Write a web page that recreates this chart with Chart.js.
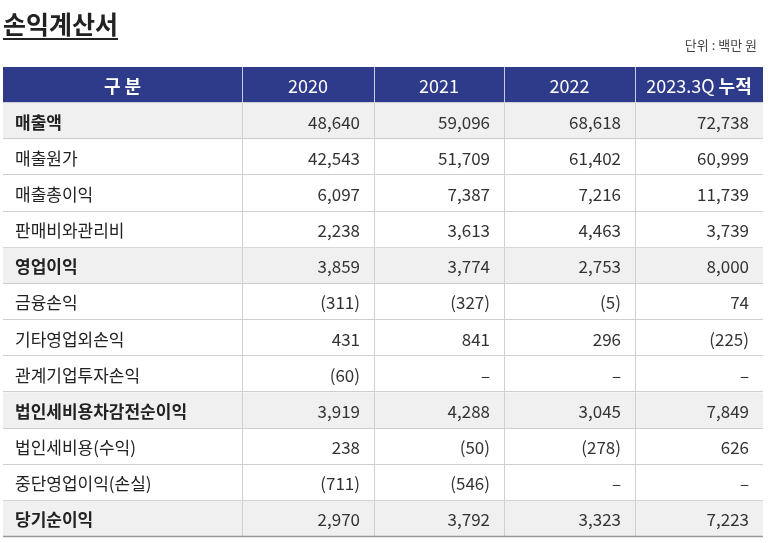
<!DOCTYPE html>
<html><head><meta charset="utf-8">
<script src="https://cdn.jsdelivr.net/npm/chart.js@4"></script>
<style>html,body{margin:0;padding:0;background:#fff}canvas{display:block}</style>
</head><body>
<div style="width:773px;height:543px"><canvas id="c"></canvas></div>
<script>
const title = '손익계산서';
const unit = '단위 : 백만 원';
const headers = ['구 분', '2020', '2021', '2022', '2023.3Q'];
const rowLabels = ['매출액','매출원가','매출총이익','판매비와관리비','영업이익','금융손익','기타영업외손익','관계기업투자손익','법인세비용차감전순이익','법인세비용(수익)','중단영업이익(손실)','당기순이익'];
const v2020 = ['48,640','42,543','6,097','2,238','3,859','(311)','431','(60)','3,919','238','(711)','2,970'];
const v2021 = ['59,096','51,709','7,387','3,613','3,774','(327)','841','–','4,288','(50)','(546)','3,792'];
const v2022 = ['68,618','61,402','7,216','4,463','2,753','(5)','296','–','3,045','(278)','–','3,323'];
const v2023 = ['72,738','60,999','11,739','3,739','8,000','74','(225)','–','7,849','626','–','7,223'];
const boldRows = ['매출액','영업이익','법인세비용차감전순이익','당기순이익'];

const colEdges = [0, 239, 371, 501, 632, 760];
const FONT = '"Noto Sans CJK KR","Noto Sans",sans-serif';
const cols = [v2020, v2021, v2022, v2023];

const tablePlugin = {
  id: 'table',
  afterDraw(chart) {
    const ctx = chart.ctx, xs = chart.scales.x, ys = chart.scales.y;
    const labels = ys.getLabels();
    const band = Math.abs(ys.getPixelForValue(1) - ys.getPixelForValue(0));
    const X = e => xs.getPixelForValue(e);
    ctx.save();
    // title
    ctx.fillStyle = '#222'; ctx.font = 'bold 25px ' + FONT; ctx.textBaseline = 'alphabetic'; ctx.textAlign='left';
    ctx.fillText(title, 3, 34);
    const tw = ctx.measureText(title).width;
    ctx.fillRect(3, 38, tw, 2);
    ctx.fillStyle = '#444'; ctx.font = '13px ' + FONT; ctx.textAlign = 'right';
    ctx.fillText(unit, 757, 50);
    labels.forEach((lab, i) => {
      const cy = ys.getPixelForValue(i), top = cy - band/2, bot = cy + band/2;
      const isHead = i === 0;
      const bold = boldRows.includes(lab);
      if (isHead) { ctx.fillStyle = '#2e3a8a'; ctx.fillRect(X(0), top, X(760)-X(0), band); }
      else if (bold) { ctx.fillStyle = '#f0f0f0'; ctx.fillRect(X(0), top, X(760)-X(0), band); }
      // separators
      ctx.strokeStyle = isHead ? '#c8cbe0' : '#d0d0d0'; ctx.lineWidth = 1;
      ctx.beginPath();
      for (let k = 1; k < colEdges.length-1; k++) { ctx.moveTo(X(colEdges[k])+0.5, top); ctx.lineTo(X(colEdges[k])+0.5, bot); }
      ctx.stroke();
      ctx.strokeStyle = i === labels.length-1 ? '#999' : '#cfcfcf';
      ctx.lineWidth = i === labels.length-1 ? 1.5 : 1;
      ctx.beginPath(); ctx.moveTo(X(0), Math.round(bot)-0.5); ctx.lineTo(X(760), Math.round(bot)-0.5); ctx.stroke();
      ctx.textBaseline = 'middle';
      if (isHead) {
        ctx.fillStyle = '#fff';
        ctx.font = 'bold 18px ' + FONT; ctx.textAlign = 'center';
        ctx.fillText(headers[0], (X(colEdges[0])+X(colEdges[1]))/2, cy+1);
        ctx.font = '18px ' + FONT;
        for (let k = 1; k < 4; k++) ctx.fillText(headers[k], (X(colEdges[k])+X(colEdges[k+1]))/2, cy+1);
        ctx.font = '18px ' + FONT; const a = headers[4] + ' ';
        ctx.font = 'bold 18px ' + FONT; const bw = ctx.measureText('누적').width;
        ctx.font = '18px ' + FONT; const aw = ctx.measureText(a).width;
        const sx = (X(colEdges[4])+X(colEdges[5]))/2 - (aw+bw)/2;
        ctx.textAlign = 'left'; ctx.fillText(a, sx, cy+1);
        ctx.font = 'bold 18px ' + FONT; ctx.fillText('누적', sx+aw, cy+1);
      } else {
        ctx.fillStyle = '#222';
        ctx.font = (bold ? 'bold ' : '') + '17px ' + FONT;
        ctx.textAlign = 'left'; ctx.fillText(lab, X(0)+12, cy+1);
        ctx.font = '17px ' + FONT; ctx.fillStyle = '#333'; ctx.textAlign = 'right';
        cols.forEach((arr, k) => ctx.fillText(arr[i-1], X(colEdges[k+2]) - 14, cy+1));
      }
    });
    ctx.restore();
  }
};

new Chart(document.getElementById('c'), {
  type: 'scatter',
  data: { labels: [headers[0], ...rowLabels], datasets: [{ data: [], pointRadius: 0 }] },
  options: {
    responsive: true, maintainAspectRatio: false, animation: false,
    layout: { padding: { left: 3, right: 10, top: 67, bottom: 6 } },
    plugins: { legend: { display: false }, tooltip: { enabled: false } },
    scales: {
      x: { type: 'linear', min: 0, max: 760, display: false },
      y: { type: 'category', labels: [headers[0], ...rowLabels], offset: true, display: false }
    }
  },
  plugins: [tablePlugin]
});
</script>
</body></html>
